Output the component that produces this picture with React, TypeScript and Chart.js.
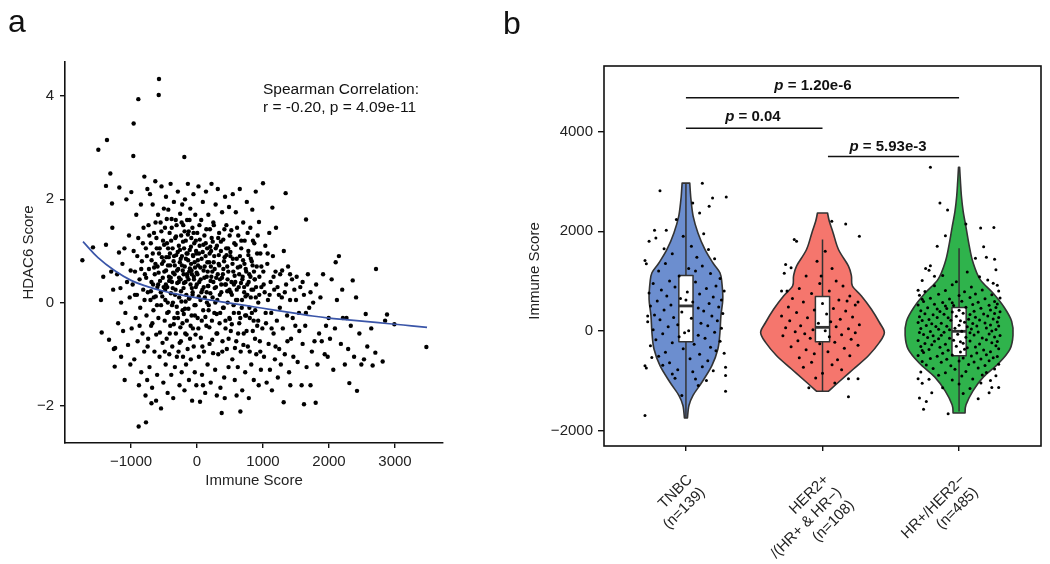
import React, { useEffect, useRef } from 'react';
import { Chart, registerables } from 'chart.js';
Chart.register(...registerables);

const FONT = "'Liberation Sans', Arial, Helvetica, sans-serif";

// ---------- Panel a : HDAC6 score vs Immune score ----------
const scatterLow: [number, number][] = [
  [-1737,0.82],[-1576,1.07],[-1495,2.96],[-1455,0.05],[-1444,-0.58],[-1364,3.15],[-1379,2.26],[-1379,1.12],[-1333,-0.72],[-1313,2.5],[-1288,1.92],[-1283,1.45],[-1260,-0.9],[-1270,0.25],[-1300,0.6],[-1420,0.5],
  [-1247,-1.24],[-1182,0.97],[-1177,2.23],[-1096,-1.5],[-1070,2.0],[-1240,-0.88],[-1210,0.55],[-1195,-0.4],[-1160,0.28],[-1150,-1.05],[-1130,0.75],[-1120,-0.55],[-1100,1.05],[-1085,-0.2],[-1060,0.4],[-1045,-0.82],[-1030,1.3],[-1020,0.1],[-1010,-1.2],[-1005,0.62],[-1150,0.0],
  [-995,2.14],[-965,2.84],[-960,3.47],[-889,3.94],[-884,-2.4],[-798,2.44],[-773,-2.32],[-990,-0.5],[-975,0.35],[-960,1.0],[-950,-1.1],[-940,0.6],[-930,-0.3],[-920,1.7],[-910,0.15],[-900,-0.75],[-890,1.25],[-880,-1.6],[-870,0.45],[-860,-0.1],[-850,1.9],[-845,-1.35],[-835,0.8],[-825,-0.6],[-815,0.25],[-810,1.45],[-800,-0.95],[-790,0.55],[-780,-1.8],[-775,1.05],[-765,-0.25],[-760,0.9],[-755,-1.5],[-752,2.2],
  [-576,4.33],[-580,4.02],[-545,-2.05],[-745,0.2],[-740,-0.7],[-735,1.5],[-728,0.65],[-720,-1.25],[-712,2.1],[-705,0.05],[-700,1.15],[-695,-0.45],[-688,0.82],[-680,-1.65],[-672,1.9],[-665,0.35],[-660,-0.15],[-652,1.35],[-645,-0.95],[-640,0.55],[-632,2.35],[-625,0.12],[-618,-0.62],[-610,1.05],[-604,-1.4],[-598,0.7],[-590,1.7],[-585,-0.3],[-575,0.95],[-568,-1.05],[-560,0.42],[-552,1.55],[-545,-0.05],[-538,2.25],[-530,0.75],[-522,-0.78],[-515,1.2],[-510,-1.55],[-505,0.3],[-502,1.82],[-690,-1.95],[-620,-1.9]
];
const scatterMid: [number, number][] = [
  [-495,0.6],[-490,-0.35],[-485,1.45],[-480,0.05],[-475,-1.2],[-470,2.05],[-465,0.88],[-460,-0.7],[-455,1.15],[-450,0.3],[-445,-1.75],[-440,0.72],[-435,1.8],[-430,-0.18],[-425,0.5],[-420,-1.0],[-415,1.35],[-410,0.95],[-405,-0.45],[-400,2.3],[-395,0.18],[-390,-1.4],[-385,1.62],[-380,0.4],[-375,-0.85],[-370,1.05],[-365,0.0],[-360,-1.85],[-355,0.8],[-350,1.95],[-345,-0.3],[-340,0.55],[-335,-1.25],[-330,1.25],[-325,0.25],[-320,-0.6],[-315,0.92],[-310,1.5],[-305,-1.05],[-300,0.38],[-295,-0.2],[-290,2.15],[-285,0.65],[-280,-0.95],[-275,1.1],[-270,0.1],[-265,-1.6],[-260,0.78],[-255,1.72],[-252,-0.48],
  [-192,2.82],[-248,0.45],[-244,-0.75],[-240,1.3],[-236,0.02],[-232,-1.35],[-228,0.9],[-224,1.9],[-220,-0.4],[-216,0.62],[-212,-1.05],[-208,1.5],[-204,0.28],[-200,-0.22],[-196,1.05],[-190,-1.7],[-186,0.7],[-182,2.0],[-178,-0.6],[-174,0.4],[-170,1.2],[-166,-1.2],[-162,0.15],[-158,0.95],[-154,-0.35],[-150,1.6],[-146,0.5],[-142,-0.9],[-138,2.3],[-134,0.82],[-130,-0.12],[-126,1.38],[-122,-1.5],[-118,0.6],[-114,0.08],[-110,1.02],[-106,-0.7],[-102,1.82],[-98,0.35],[-94,-1.1],[-90,0.75],[-86,1.25],[-82,-0.25],[-78,0.55],[-74,-1.9],[-70,1.45],[-66,0.2],[-62,-0.5],[-58,0.9],[-54,2.1],[-50,-0.85],[-46,0.45],[-42,1.15],[-38,-0.05],[-34,-1.35],[-30,0.68],[-26,1.7],[-22,-0.62],[-18,0.3],[-14,1.0],[-10,-1.6],[-6,0.58],
  [46,-1.92],[4,1.35],[10,-0.3],[16,0.72],[22,2.25],[28,-1.05],[34,0.4],[40,1.1],[52,0.05],[58,-0.68],[64,1.6],[70,0.85],[76,-1.4],[82,0.25],[88,1.95],[94,-0.15],[100,0.62],[106,-0.95],[112,1.3],[118,0.1],[124,-1.75],[130,0.9],[136,2.15],[142,-0.45],[148,0.5],[154,1.05],[160,-1.2],[166,0.32],[172,1.7],[178,-0.05],[184,0.78],[190,-0.8],[196,1.42],[202,0.18],[208,-1.55],[214,1.0],[220,2.3],[226,-0.35],[232,0.6],[238,1.18],[244,-0.98],[248,0.4],[30,0.95],[90,-1.6],[150,0.0],[210,0.7],
  [374,-2.14],[255,1.5],[262,-0.2],[268,0.65],[275,-1.3],[282,1.9],[288,0.3],[295,-0.6],[302,1.1],[308,0.05],[315,2.2],[322,-1.0],[328,0.75],[335,1.35],[342,-0.4],[348,0.45],[355,-1.65],[362,1.0],[368,0.2],[380,1.75],[386,-0.75],[392,0.55],[398,1.22],[405,-0.1],[412,-1.45],[418,0.88],[425,2.05],[432,-0.5],[438,0.35],[445,1.5],[452,-0.9],[458,0.7],[465,0.0],[472,1.05],[478,-1.25],[485,1.85],[492,0.25],[498,-0.32],[300,-1.8],[420,-1.85],
  [657,-2.11],[505,0.9],[512,-0.55],[520,1.4],[528,0.15],[535,-1.1],[542,2.1],[550,0.6],[558,-0.2],[565,1.15],[572,-1.5],[580,0.4],[588,1.75],[595,-0.75],[602,0.85],[610,0.05],[618,-1.25],[625,1.3],[632,0.3],[640,-0.4],[648,2.2],[655,0.7],[662,-0.95],[670,1.05],[678,-0.1],[685,-1.7],[692,0.5],[700,1.55],[708,-0.6],[715,0.2],[722,1.2],[730,-1.35],[738,0.65],[745,-0.25],[600,-1.8],
  [755,1.95],[762,0.35],[770,-0.85],[778,1.0],[785,-1.85],[792,0.55],[800,-0.3],[808,1.45],[815,0.1],[822,-1.2],[830,0.8],[838,1.8],[845,-0.55],[852,0.25],[860,-1.5],[868,1.15],[875,0.45],[882,-0.15],[890,2.15],[898,-1.0],[905,0.7],[912,-0.45],[920,1.3],[928,0.0],[935,-1.6],[939,1.56],[945,0.5],[952,-0.75],[960,0.95],[968,-1.3],[975,0.3],[990,-0.5]
];
const scatterCore: [number, number][] = [
  [-690,0.4],[-670,0.95],[-655,0.1],[-630,0.75],[-615,1.25],[-600,0.3],[-582,0.58],[-565,1.05],[-548,0.2],[-532,0.88],[-518,0.48],[-498,1.12],[-482,0.25],[-468,0.62],[-452,-0.2],[-438,1.05],[-422,0.42],[-408,0.72],[-392,1.2],[-378,-0.05],[-362,0.58],[-348,0.9],[-332,0.15],[-318,1.28],[-302,0.62],[-288,-0.3],[-272,0.48],[-258,1.02],[-242,0.22],[-228,0.72],[-212,1.18],[-198,0.38],[-182,-0.12],[-168,0.85],[-152,0.55],[-138,1.32],[-122,0.08],[-108,0.66],[-92,1.08],[-78,0.28],[-62,0.92],[-48,0.5],[-32,-0.25],[-18,1.2],[-4,0.35],[12,0.82],[26,0.12],[42,1.22],[56,0.45],[72,-0.35],[86,0.98],[102,0.3],[116,0.7],[132,1.15],[146,0.2],[162,0.6],[176,-0.15],[192,0.95],[206,0.42],[222,1.25],[236,0.1],[252,0.78],[268,0.28],[284,1.05],[298,-0.22],[314,0.55],[330,0.92],[346,0.15],[362,1.18],[378,0.48],[394,-0.1],[410,0.8],[426,0.35],[442,1.05],[458,0.22],[474,0.6],[490,-0.3],[506,0.98],[522,0.4],[538,0.75],[554,-0.05],[570,0.52],[586,1.12],[602,0.25],[618,0.68],[634,-0.2],[650,0.9],[666,0.38],[682,0.05],[698,0.82],[714,0.3],[730,-0.25],[746,0.6],[762,0.15],[778,0.92],[794,-0.1],[810,0.5],[826,0.25],[842,0.72],[858,-0.35],[874,0.45],[890,0.1]
];
const scatterExtra: [number, number][] = [
  [-940,0.15],[-905,0.9],[-870,-0.45],[-845,0.65],[-820,1.15],[-795,0.05],[-770,0.48],[-748,-0.85],[-722,1.3],[-698,0.22],[-676,-0.4],[-650,0.68],[-628,1.55],[-606,-0.05],[-588,0.35],[-562,-0.58],[-540,1.38],[-526,0.12],[-507,0.8],[-488,-0.95],[-472,0.35],[-458,1.62],[-443,0.0],[-428,0.88],[-413,-0.6],[-398,0.48],[-383,1.45],[-368,0.28],[-352,-0.42],[-337,0.72],[-322,1.6],[-307,-0.08],[-292,0.98],[-277,0.4],[-262,-0.78],[-247,0.85],[-233,1.55],[-218,-0.15],[-203,0.55],[-188,1.38],[-173,0.02],[-158,-0.62],[-143,0.95],[-128,0.45],[-113,1.6],[-97,-0.45],[-83,0.62],[-67,0.15],[-52,1.35],[-37,0.78],[-23,-0.05],[-8,0.95],
  [7,0.55],[21,-0.5],[37,1.5],[51,0.68],[67,0.2],[81,-0.85],[97,1.12],[111,0.48],[127,-0.28],[141,1.42],[157,0.78],[171,0.32],[187,-0.48],[201,1.08],[217,0.5],[231,-0.72],[247,1.55],[261,0.9],[277,0.0],[291,0.48],[307,-0.6],[321,1.25],[337,0.72],[351,-0.2],[367,0.35],[383,-0.95],[399,0.65],[415,1.42],[431,-0.35],[447,0.92],[463,0.45],[479,-0.7],[495,1.3],[511,0.2],[527,-0.42],[543,0.85],[559,0.35],[575,-0.88],[591,0.05],[607,1.45],[623,-0.6],[639,0.55],[655,-0.3],[671,1.2],[687,0.45],[703,-0.82],[719,0.75],[735,0.12],[751,-0.55],[767,1.35],[783,0.4],[799,-0.95],[815,0.85],[831,-0.2],[847,1.2],[863,0.6],[879,-0.7],[895,0.3],[911,0.95],[927,-0.35],[943,0.15],[959,-0.95],[975,0.7],
  [1010,0.35],[1040,-0.2],[1070,0.95],[1100,0.15],[1130,-0.5],[1160,0.5],[1190,-0.85],[1220,0.3],[1255,-0.1],[1290,0.62],[1330,0.2],[1370,-0.75],[1410,0.55],[1450,-0.3],[1500,0.05],[1550,-0.55],[1600,0.4],[1650,-0.2],[1720,0.2]
];
const scatterHigh: [number, number][] = [
  [1000,2.31],[1142,1.84],[1197,1.45],[1005,0.6],[1015,-1.05],[1025,0.2],[1035,1.1],[1045,-0.4],[1055,-1.55],[1065,0.75],[1075,0.05],[1085,-0.8],[1095,1.35],[1105,-1.3],[1115,0.4],[1125,-0.2],[1135,-1.7],[1150,0.9],[1160,-0.6],[1170,0.25],[1180,-1.1],[1190,0.6],[1210,-0.35],[1225,-1.45],[1240,0.15],[1245,-0.9],
  [1313,-1.93],[1343,2.12],[1260,0.55],[1270,-1.2],[1285,0.1],[1300,-0.5],[1315,1.0],[1330,-1.0],[1350,0.35],[1365,-0.25],[1380,0.7],[1395,-1.35],[1410,0.05],[1425,-0.7],[1440,0.45],[1460,-1.05],[1475,0.25],[1490,-0.45],[1414,-1.6],
  [1652,1.61],[1621,-1.97],[1510,0.5],[1525,-1.15],[1545,-0.2],[1565,0.3],[1585,-1.6],[1600,-0.8],[1620,0.15],[1640,-0.45],[1660,-1.25],[1680,0.55],[1700,-0.1],[1720,-1.6],[1740,-0.95],
  [1798,-1.94],[1760,0.0],[1780,-0.75],[1805,0.35],[1825,-1.2],[1850,-0.6],[1870,0.1],[1890,-0.75],[1910,0.55],[1935,-1.0],[1955,-0.45],[1980,-1.05],[1995,-0.3],
  [2101,0.78],[2015,-0.7],[2040,0.45],[2065,-1.3],[2090,-0.5],[2120,0.05],[2150,0.9],[2180,-0.8],[2210,-0.3],[2240,-1.2],[2200,0.25],
  [2359,0.43],[2308,-1.56],[2424,-1.71],[2265,-0.3],[2290,-0.9],[2330,-0.45],[2380,-1.05],[2410,0.1],[2460,-0.6],[2490,-1.2],
  [2556,-0.22],[2661,-1.22],[2702,-0.97],[2712,0.65],[2580,-0.85],[2640,-0.5],[2530,-1.1],
  [2813,-1.14],[2879,-0.23],[2990,-0.42],[3475,-0.86],[2850,-0.35]
];
const fitImmune = [-1727,-1500,-1250,-1000,-750,-500,-250,0,250,500,750,1000,1250,1500,1750,2000,2250,2500,2750,3000,3250,3485];
const fitHdac = [1.18,0.87,0.62,0.43,0.31,0.22,0.15,0.09,0.04,-0.01,-0.06,-0.11,-0.16,-0.21,-0.26,-0.30,-0.33,-0.36,-0.39,-0.42,-0.45,-0.48];
const aXTicks = [-1000, 0, 1000, 2000, 3000];
const aYTicks = [-2, 0, 2, 4];

// ---------- Panel b : Immune score by subtype ----------
const groupLabels = [['TNBC', '(n=139)'], ['HER2+', '/(HR+ & HR\u2212)', '(n=108)'], ['HR+/HER2\u2212', '(n=485)']];
const groupColors = ['#6C8ECF', '#F5766D', '#2FB34C'];
const tnbcLevels = [2967, 2800, 2634, 2300, 1967, 1634, 1367, 1167, 967, 634, 300, -33, -366, -700, -1033, -1300, -1500, -1750];
const tnbcWidths = [0.028, 0.032, 0.037, 0.053, 0.088, 0.139, 0.197, 0.249, 0.263, 0.27, 0.256, 0.249, 0.234, 0.19, 0.117, 0.051, 0.022, 0.011];
const her2Levels = [2367, 2200, 1967, 1634, 1300, 1100, 900, 700, 434, 167, -33, -233, -500, -767, -1033, -1213];
const her2Widths = [0.037, 0.05, 0.078, 0.117, 0.19, 0.212, 0.219, 0.285, 0.358, 0.417, 0.453, 0.417, 0.336, 0.227, 0.117, 0.044];
const hrLevels = [3284, 3000, 2714, 2400, 2078, 1700, 1376, 1034, 754, 474, 194, -86, -366, -646, -926, -1206, -1486, -1650];
const hrWidths = [0.004, 0.01, 0.017, 0.03, 0.051, 0.075, 0.102, 0.154, 0.25, 0.33, 0.385, 0.395, 0.373, 0.292, 0.179, 0.102, 0.051, 0.044];
// [lower whisker, q1, median, q3, upper whisker]
const tnbcBox = [-1750, -220, 500, 1110, 2967];
const her2Box = [-1213, -220, 70, 690, 1834];
const hrBox = [-1620, -500, -10, 470, 1660];
const bYTicks = [-2000, 0, 2000, 4000];
const pLabels = ['1.20e-6', '0.04', '5.93e-3'];
const pFrom = [1, 1, 2.04];
const pTo = [3, 2, 3];
const pLineY = [4680, 4068, 3500];
const pTextX = [1.93, 1.49, 2.48];
const pTextY = [4914, 4294, 3700];

const tnbcPoints: [number, number][] = [
  [0.12,2967],[-0.19,2814],[0.295,2687],[0.195,2667],[0.17,2500],[0.05,2567],[0.1,2367],[-0.07,2234],[-0.23,2020],[-0.144,2020],[-0.27,1800],[-0.22,1867],[0.165,1634],[-0.3,1414],[-0.29,1347],[-0.3,-1700],[0.29,-1213],[0.29,-900],[0.29,-733],[-0.3,-700],[-0.29,-746],[0.2,-800],[-0.08,-953],[0.07,-967],[0.15,-1000],[-0.25,-534],
  [-0.02,1900],[0.04,1700],[-0.1,1550],[0.08,1480],[-0.15,1350],[0.12,1300],[0.02,1250],[-0.2,1200],[0.18,1150],[-0.05,1100],[0.25,1050],[-0.12,1000],[0.07,980],[-0.24,950],[0.22,900],[-0.08,880],[0.15,850],[-0.18,820],[0.28,800],[0.01,780],[-0.27,760],[0.1,740],[-0.14,700],[0.2,680],[-0.04,650],[0.26,620],[-0.21,600],[0.05,580],[0.17,550],[-0.11,520],[-0.26,500],[0.24,480],[0.09,460],[-0.16,420],[0.13,400],[-0.03,380],[0.27,350],[-0.23,320],[0.19,300],[-0.09,270],[0.04,250],[-0.19,220],[0.23,200],[-0.28,180],[0.11,150],[-0.06,120],[0.16,100],[-0.13,80],[0.26,50],[-0.24,20],[0.02,0],[0.21,-30],[-0.17,-60],[0.09,-90],[-0.05,-120],[0.14,-150],[-0.22,-180],[0.25,-210],[-0.1,-240],[0.06,-270],[-0.26,-300],[0.18,-330],[-0.02,-360],[0.22,-400],[-0.15,-430],[0.1,-470],[-0.2,-510],[0.03,-560],[0.16,-600],[-0.12,-640],[-0.17,-690],[0.12,-720],[-0.06,-780],[0.05,-820],[-0.1,-870],[0.09,-1100],[-0.03,-1300],[0.13,1950],[-0.16,1650],[0.21,1450],[0.07,1200],[-0.01,-40],[0.28,-450],[-0.28,300],[0.0,620]
];
const her2Points: [number, number][] = [
  [0.068,2200],[-0.207,1834],[-0.19,1800],[-0.27,1334],[-0.23,1267],[-0.28,1154],[-0.3,800],[-0.26,800],[0.17,2148],[0.27,1900],[0.26,578],[0.19,-964],[0.26,-964],[0.19,-1326],[-0.1,-1146],
  [0.02,1600],[-0.04,1400],[0.07,1250],[-0.12,1100],[0.1,1000],[-0.02,950],[0.15,900],[-0.17,850],[0.05,800],[-0.08,750],[0.2,700],[-0.22,650],[0.12,620],[-0.14,580],[0.0,550],[0.24,520],[-0.25,480],[0.08,450],[-0.06,420],[0.17,400],[-0.19,370],[0.03,340],[-0.3,300],[0.22,280],[-0.11,260],[0.13,230],[-0.24,200],[0.06,180],[-0.03,150],[0.27,120],[-0.16,100],[0.1,80],[-0.27,60],[0.19,40],[-0.07,20],[0.02,0],[-0.2,-20],[0.24,-40],[-0.13,-60],[0.14,-80],[-0.29,-100],[0.05,-120],[-0.09,-150],[0.21,-170],[-0.18,-200],[0.09,-230],[-0.02,-260],[0.26,-290],[-0.23,-320],[0.16,-350],[-0.12,-380],[0.04,-420],[-0.06,-460],[0.2,-500],[-0.17,-540],[0.11,-580],[-0.08,-630],[0.07,-680],[-0.14,-730],[0.14,-780],[0.0,-850],[-0.05,-950],[0.09,-1050],[0.18,600],[-0.01,1100]
];
const hrPoints: [number, number][] = [
  [-0.21,3284],[-0.14,2568],[-0.084,2428],[0.158,2064],[0.255,2078],[0.05,2148],[-0.1,1910],[-0.16,1700],[0.18,1690],[0.2,1480],[0.26,1440],[0.12,1460],[-0.245,1250],[-0.21,1306],[-0.18,1096],[0.25,955],[-0.3,815],[-0.26,-1574],[-0.24,-1420],[-0.29,-1350],[-0.08,-1666],[0.14,-1364],[0.22,-1244],[0.29,-1140],[0.23,-1000],[-0.3,-964],
  [-0.22,1215],[0.06,1180],[0.27,1225],[-0.12,1110],[0.15,1085],[-0.27,1010],[-0.02,985],[0.21,1020],[-0.18,905],[0.09,880],[0.28,915],[-0.05,925],
  [-0.25,790],[-0.1,812],[0.04,785],[0.17,820],[0.29,798],[-0.29,715],[-0.15,735],[0.0,708],[0.12,742],[0.24,725],
  [-0.21,655],[-0.07,640],[0.08,668],[0.19,645],[0.3,660],[-0.27,632],[-0.26,588],[-0.12,570],[0.02,595],[0.14,575],[0.26,590],[-0.05,562],
  [-0.3,520],[-0.18,535],[-0.04,508],[0.1,528],[0.22,512],[0.28,540],[-0.1,500],[-0.23,465],[-0.09,448],[0.05,472],[0.16,455],[0.27,468],[-0.16,440],
  [-0.28,405],[-0.14,390],[0.0,412],[0.11,395],[0.23,418],[0.3,385],[-0.05,378],[-0.25,345],[-0.11,332],[0.03,355],[0.18,338],[0.26,350],[-0.19,322],[0.08,328],
  [-0.29,285],[-0.16,270],[-0.02,292],[0.12,275],[0.21,298],[0.29,265],[-0.08,262],[-0.22,225],[-0.06,210],[0.07,232],[0.15,215],[0.25,238],[-0.27,205],[0.01,200],
  [-0.3,165],[-0.13,150],[0.04,172],[0.19,155],[0.28,178],[-0.2,142],[0.1,145],[-0.24,105],[-0.09,92],[0.0,112],[0.13,95],[0.23,118],[-0.17,85],[0.06,80],[0.29,98],
  [-0.28,45],[-0.15,30],[-0.03,52],[0.09,35],[0.2,58],[0.27,25],[-0.07,20],[-0.21,-15],[-0.11,-30],[0.02,-8],[0.14,-25],[0.24,-2],[-0.29,-35],[0.08,-40],
  [-0.26,-75],[-0.13,-90],[-0.01,-68],[0.11,-85],[0.22,-62],[0.3,-95],[-0.19,-100],[-0.23,-135],[-0.07,-150],[0.05,-128],[0.17,-145],[0.26,-122],[-0.15,-158],
  [-0.3,-195],[-0.18,-210],[-0.04,-188],[0.08,-205],[0.2,-182],[0.28,-215],[0.01,-220],[-0.25,-255],[-0.1,-270],[0.03,-248],[0.15,-265],[0.24,-242],[-0.2,-278],
  [-0.28,-315],[-0.14,-330],[-0.02,-308],[0.12,-325],[0.27,-302],[0.06,-338],[-0.22,-375],[-0.08,-390],[0.04,-368],[0.18,-385],[0.29,-362],[-0.27,-395],
  [-0.26,-435],[-0.12,-450],[0.01,-428],[0.13,-445],[0.23,-422],[-0.3,-495],[-0.16,-510],[-0.05,-488],[0.09,-505],[0.2,-482],[0.28,-515],
  [-0.21,-555],[-0.09,-570],[0.03,-548],[0.16,-565],[0.25,-542],[-0.27,-615],[-0.13,-630],[0.0,-608],[0.11,-625],[0.22,-602],
  [-0.24,-685],[-0.06,-700],[0.07,-678],[0.19,-695],[0.29,-672],[-0.19,-755],[-0.03,-770],[0.14,-748],[0.26,-765],
  [-0.28,-825],[-0.1,-840],[0.05,-818],[0.2,-835],[-0.15,-895],[0.02,-910],[0.17,-888],[0.27,-905],
  [-0.22,-975],[-0.05,-990],[0.1,-968],[-0.27,-1055],[0.0,-1070],[0.16,-1048],[-0.12,-1145],[0.08,-1160],[0.24,-1138],[-0.2,-1245],[0.03,-1260]
];

const violinLevels = [tnbcLevels, her2Levels, hrLevels];
const violinWidths = [tnbcWidths, her2Widths, hrWidths];
const boxes = [tnbcBox, her2Box, hrBox];
const jitterGroups = [tnbcPoints, her2Points, hrPoints];

const minus = (v: number) => (v < 0 ? '\u2212' + Math.abs(v) : String(v));

function crPath(ctx: CanvasRenderingContext2D, pts: number[][]) {
  for (let i = 0; i < pts.length - 1; i++) {
    const p0 = pts[Math.max(i - 1, 0)], p1 = pts[i], p2 = pts[i + 1], p3 = pts[Math.min(i + 2, pts.length - 1)];
    ctx.bezierCurveTo(
      p1[0] + (p2[0] - p0[0]) / 6, p1[1] + (p2[1] - p0[1]) / 6,
      p2[0] - (p3[0] - p1[0]) / 6, p2[1] - (p3[1] - p1[1]) / 6,
      p2[0], p2[1]
    );
  }
}

const panelLetter = (letter: string, px: number, py: number) => ({
  id: 'panelLetter' + letter,
  afterDraw(chart: any) {
    const ctx = chart.ctx;
    ctx.save();
    ctx.font = `32px ${FONT}`;
    ctx.fillStyle = '#111';
    ctx.textAlign = 'left';
    ctx.textBaseline = 'alphabetic';
    ctx.fillText(letter, px, py);
    ctx.restore();
  }
});

const spearmanPlugin = {
  id: 'spearman',
  afterDraw(chart: any) {
    const ctx = chart.ctx;
    ctx.save();
    ctx.font = `15.5px ${FONT}`;
    ctx.fillStyle = '#111';
    ctx.textAlign = 'left';
    ctx.textBaseline = 'middle';
    ctx.fillText('Spearman Correlation:', 263, 90);
    ctx.fillText('r = -0.20, p = 4.09e-11', 263, 108);
    ctx.restore();
  }
};

const yTitleB = {
  id: 'yTitleB',
  afterDraw(chart: any) {
    const ctx = chart.ctx;
    ctx.save();
    ctx.translate(55, 271);
    ctx.rotate(-Math.PI / 2);
    ctx.font = `15px ${FONT}`;
    ctx.fillStyle = '#222';
    ctx.textAlign = 'center';
    ctx.textBaseline = 'middle';
    ctx.fillText('Immune Score', 0, 0);
    ctx.restore();
  }
};

const violinPlugin = {
  id: 'violins',
  beforeDatasetsDraw(chart: any) {
    const { ctx, scales: { x, y } } = chart;
    ctx.save();
    violinLevels.forEach((levels, gi) => {
      const cx = gi + 1;
      const widths = violinWidths[gi];
      const right = levels.map((v, i) => [x.getPixelForValue(cx + widths[i]), y.getPixelForValue(v)]);
      const left = levels.map((v, i) => [x.getPixelForValue(cx - widths[i]), y.getPixelForValue(v)]).reverse();
      ctx.beginPath();
      ctx.moveTo(right[0][0], right[0][1]);
      crPath(ctx, right);
      ctx.lineTo(left[0][0], left[0][1]);
      crPath(ctx, left);
      ctx.closePath();
      ctx.fillStyle = groupColors[gi];
      ctx.fill();
      ctx.lineWidth = 1.6;
      ctx.lineJoin = 'round';
      ctx.strokeStyle = '#333';
      ctx.stroke();
    });
    boxes.forEach((b, gi) => {
      const cx = gi + 1;
      const xc = x.getPixelForValue(cx);
      const xl = x.getPixelForValue(cx - 0.052);
      const xr = x.getPixelForValue(cx + 0.052);
      const [lo, q1, med, q3, hi] = b.map((v) => y.getPixelForValue(v));
      ctx.strokeStyle = '#333';
      ctx.lineWidth = 1.5;
      ctx.beginPath();
      ctx.moveTo(xc, lo); ctx.lineTo(xc, q1);
      ctx.moveTo(xc, q3); ctx.lineTo(xc, hi);
      ctx.stroke();
      ctx.fillStyle = '#fff';
      ctx.fillRect(xl, q3, xr - xl, q1 - q3);
      ctx.strokeRect(xl, q3, xr - xl, q1 - q3);
      ctx.lineWidth = 2.8;
      ctx.beginPath();
      ctx.moveTo(xl, med); ctx.lineTo(xr, med);
      ctx.stroke();
    });
    ctx.restore();
  },
  afterDatasetsDraw(chart: any) {
    const { ctx, chartArea, scales: { x, y } } = chart;
    ctx.save();
    ctx.strokeStyle = '#111';
    ctx.lineWidth = 1.6;
    ctx.strokeRect(chartArea.left, chartArea.top, chartArea.right - chartArea.left, chartArea.bottom - chartArea.top);
    pLabels.forEach((lab, i) => {
      const ly = y.getPixelForValue(pLineY[i]);
      ctx.lineWidth = 1.5;
      ctx.strokeStyle = '#111';
      ctx.beginPath();
      ctx.moveTo(x.getPixelForValue(pFrom[i]), ly);
      ctx.lineTo(x.getPixelForValue(pTo[i]), ly);
      ctx.stroke();
      const tx = x.getPixelForValue(pTextX[i]);
      const ty = y.getPixelForValue(pTextY[i]);
      ctx.font = `italic bold 15px ${FONT}`;
      const wp = ctx.measureText('p').width;
      ctx.font = `bold 15px ${FONT}`;
      const rest = ' = ' + lab;
      const wr = ctx.measureText(rest).width;
      const sx = tx - (wp + wr) / 2;
      ctx.fillStyle = '#111';
      ctx.textAlign = 'left';
      ctx.textBaseline = 'middle';
      ctx.font = `italic bold 15px ${FONT}`;
      ctx.fillText('p', sx, ty);
      ctx.font = `bold 15px ${FONT}`;
      ctx.fillText(rest, sx + wp, ty);
    });
    ctx.restore();
  }
};

const tickGrid = (len: number) => ({
  display: true,
  drawOnChartArea: false,
  drawTicks: true,
  tickLength: len,
  color: '#111',
  lineWidth: 1.4
});

export default function App() {
  const refA = useRef<HTMLCanvasElement>(null);
  const refB = useRef<HTMLCanvasElement>(null);

  useEffect(() => {
    const allScatter = [...scatterLow, ...scatterCore, ...scatterExtra, ...scatterMid, ...scatterHigh];
    const chartA = new Chart(refA.current as HTMLCanvasElement, {
      type: 'scatter',
      data: {
        datasets: [
          {
            type: 'line',
            data: fitImmune.map((v, i) => ({ x: v, y: fitHdac[i] })),
            borderColor: '#3A55A8',
            borderWidth: 1.7,
            pointRadius: 0,
            tension: 0.4,
            fill: false,
            order: 0
          } as any,
          {
            data: allScatter.map(([a, b]) => ({ x: a, y: b })),
            backgroundColor: '#000',
            borderWidth: 0,
            pointRadius: 2.2,
            order: 1
          }
        ]
      },
      options: {
        responsive: false,
        animation: false,
        devicePixelRatio: 1,
        layout: { padding: { left: 20, top: 62, right: 37, bottom: 74 } },
        plugins: { legend: { display: false }, tooltip: { enabled: false } },
        scales: {
          x: {
            type: 'linear',
            min: -2000,
            max: 3727,
            afterBuildTicks: (s: any) => { s.ticks = aXTicks.map((v) => ({ value: v })); },
            afterFit: (s: any) => { s.height = 47; },
            ticks: { font: { family: FONT, size: 15 }, color: '#222', padding: 5, maxRotation: 0, autoSkip: false, callback: (v: any) => minus(Number(v)) },
            grid: tickGrid(5),
            border: { display: true, color: '#111', width: 1.6 },
            title: { display: true, text: 'Immune Score', font: { family: FONT, size: 15 }, color: '#222', padding: 0 }
          },
          y: {
            type: 'linear',
            min: -2.72,
            max: 4.66,
            afterBuildTicks: (s: any) => { s.ticks = aYTicks.map((v) => ({ value: v })); },
            afterFit: (s: any) => { s.width = 45; },
            ticks: { font: { family: FONT, size: 15 }, color: '#222', padding: 6, autoSkip: false, callback: (v: any) => minus(Number(v)) },
            grid: tickGrid(5),
            border: { display: true, color: '#111', width: 1.6 },
            title: { display: true, text: 'HDAC6 Score', font: { family: FONT, size: 15 }, color: '#222', padding: 0 }
          }
        }
      },
      plugins: [panelLetter('a', 8, 32), spearmanPlugin]
    } as any);

    const chartB = new Chart(refB.current as HTMLCanvasElement, {
      type: 'scatter',
      data: {
        datasets: jitterGroups.map((pts, gi) => ({
          data: pts.map(([dx, v]) => ({ x: gi + 1 + dx, y: v })),
          backgroundColor: '#000',
          borderWidth: 0,
          pointRadius: 1.5
        }))
      },
      options: {
        responsive: false,
        animation: false,
        devicePixelRatio: 1,
        layout: { padding: { left: 46, top: 66, right: 9, bottom: 0 } },
        plugins: { legend: { display: false }, tooltip: { enabled: false } },
        scales: {
          x: {
            type: 'linear',
            min: 0.4,
            max: 3.6,
            afterBuildTicks: (s: any) => { s.ticks = groupLabels.map((_, i) => ({ value: i + 1 })); },
            afterFit: (s: any) => { s.height = 118; },
            ticks: {
              font: { family: FONT, size: 15 },
              color: '#222',
              padding: 20,
              labelOffset: 4,
              minRotation: 45,
              maxRotation: 45,
              autoSkip: false,
              callback: (v: any) => groupLabels[Math.round(Number(v)) - 1] || ''
            },
            grid: tickGrid(5),
            border: { display: false }
          },
          y: {
            type: 'linear',
            min: -2314,
            max: 5320,
            afterBuildTicks: (s: any) => { s.ticks = bYTicks.map((v) => ({ value: v })); },
            afterFit: (s: any) => { s.width = 78; },
            ticks: { font: { family: FONT, size: 15 }, color: '#222', padding: 5, autoSkip: false, callback: (v: any) => minus(Number(v)) },
            grid: tickGrid(6),
            border: { display: false },
            title: { display: false }
          }
        }
      },
      plugins: [violinPlugin, yTitleB, panelLetter('b', 23, 34)]
    } as any);

    return () => {
      chartA.destroy();
      chartB.destroy();
    };
  }, []);

  return (
    <div style={{ position: 'absolute', left: 0, top: 0, width: 1050, height: 564, background: '#fff' }}>
      <canvas ref={refA} width={480} height={564} style={{ position: 'absolute', left: 0, top: 0 }} />
      <canvas ref={refB} width={570} height={564} style={{ position: 'absolute', left: 480, top: 0 }} />
    </div>
  );
}
